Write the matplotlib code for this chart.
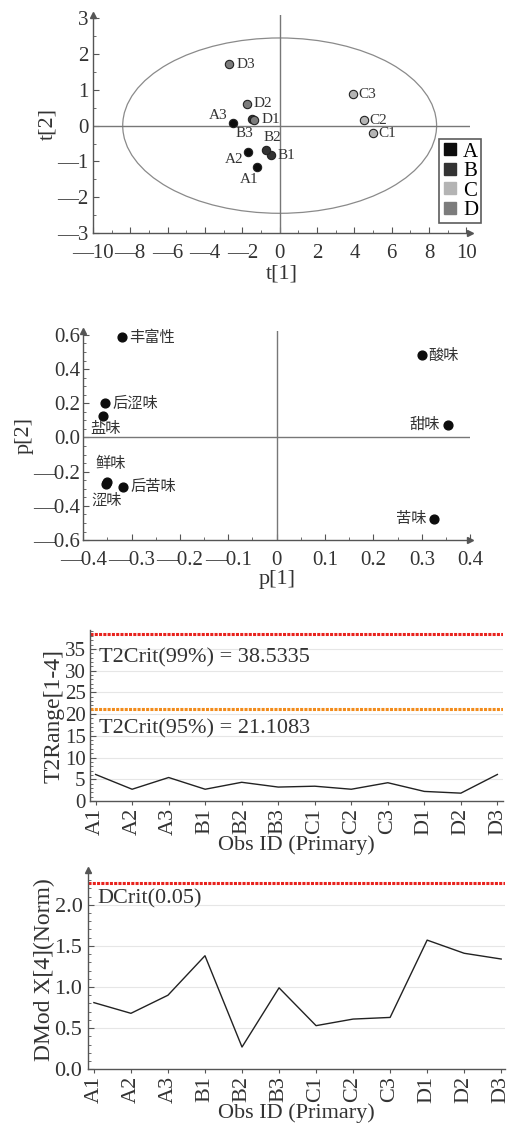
import matplotlib
matplotlib.use('Agg')
import matplotlib.pyplot as plt
from matplotlib.patches import Ellipse
from matplotlib.ticker import FuncFormatter, MultipleLocator

plt.rcParams['font.family'] = ['Liberation Serif', 'Noto Sans CJK SC', 'DejaVu Sans']
plt.rcParams['axes.unicode_minus'] = False

# ---------------- data ----------------
obs_ids = ['A1', 'A2', 'A3', 'B1', 'B2', 'B3', 'C1', 'C2', 'C3', 'D1', 'D2', 'D3']
groups = ['A', 'A', 'A', 'B', 'B', 'B', 'C', 'C', 'C', 'D', 'D', 'D']
group_names = ['A', 'B', 'C', 'D']
t1 = [-1.19, -1.67, -2.50, -0.46, -0.71, -1.50, 5.00, 4.50, 3.90, -1.35, -1.77, -2.71]
t2 = [-1.15, -0.74, 0.08, -0.83, -0.69, 0.18, -0.21, 0.15, 0.88, 0.17, 0.61, 1.71]
ellipse_w = 16.8
ellipse_h = 4.9

taste_names = ['丰富性', '酸味', '后涩味', '盐味', '甜味', '鲜味', '涩味', '后苦味', '苦味']
p1 = [-0.320, 0.300, -0.354, -0.359, 0.355, -0.351, -0.353, -0.317, 0.326]
p2 = [0.585, 0.480, 0.200, 0.126, 0.075, -0.258, -0.272, -0.287, -0.474]

t2range = [6.1, 2.7, 5.4, 2.7, 4.3, 3.2, 3.4, 2.7, 4.2, 2.2, 1.8, 6.1]
t2crit99 = 38.5335
t2crit95 = 21.1083

dmodx = [0.81, 0.68, 0.90, 1.38, 0.27, 0.99, 0.53, 0.61, 0.63, 1.57, 1.41, 1.34]
dcrit = 2.27

# ---------------- styles ----------------
group_colors = {'A': '#0d0d0d', 'B': '#333333', 'C': '#b4b4b4', 'D': '#7c7c7c'}
score_offsets = {'A1': (-6, -9, 'center'), 'A2': (-10, -5, 'center'), 'A3': (-11, 5, 'center'),
                 'B1': (11, 0, 'center'), 'B2': (4, 9.5, 'center'), 'B3': (-5, -10, 'center'),
                 'C1': (10.5, 0, 'center'), 'C2': (10.5, 0, 'center'), 'C3': (10.5, 0, 'center'),
                 'D1': (12, 0, 'center'), 'D2': (12, 0, 'center'), 'D3': (12, 0, 'center')}
load_offsets = [(5, 0, 'left'), (5, 0, 'left'), (5, 0, 'left'), (1.5, -9, 'center'),
                (-6.5, 0, 'right'), (3, 13, 'center'), (0.5, -11.5, 'center'),
                (5.5, 0, 'left'), (-5.5, 0, 'right')]
spine_c = '#555555'
text_c = '#333333'


def dash_fmt(v, pos):
    s = ('%g' % v)
    if v < 0:
        s = '—' + s[1:]
    return s


def dash_fmt1(v, pos):
    s = '%.1f' % v
    if v < -1e-9:
        s = '—' + s[1:]
    elif abs(v) < 1e-9:
        s = '0.0'
    return s


def dash_fmt_p(v, pos):
    if abs(v) < 1e-9:
        return '0'
    s = '%.1f' % v
    if v < 0:
        s = '—' + s[1:]
    return s


def style_axes(ax, arrow_x=True, arrow_y=True):
    for s in ['top', 'right']:
        ax.spines[s].set_visible(False)
    for s in ['left', 'bottom']:
        ax.spines[s].set_color(spine_c)
        ax.spines[s].set_linewidth(1.0)
    ax.tick_params(colors=spine_c, labelcolor=text_c, direction='in', length=4, width=0.8)
    ax.tick_params(which='minor', direction='in', length=2, width=0.6, colors=spine_c)
    if arrow_x:
        ax.plot(1.0, 0, marker='>', color=spine_c, markersize=4,
                transform=ax.transAxes, clip_on=False)
    if arrow_y:
        ax.plot(0, 1.0, marker='^', color=spine_c, markersize=4,
                transform=ax.transAxes, clip_on=False)


fig = plt.figure(figsize=(5.1, 11.31), dpi=100)

# ---------------- panel 1: scores ----------------
ax1 = fig.add_axes([0.182, 0.794, 0.74, 0.193])
ax1.set_xlim(-10, 10.2)
ax1.set_ylim(-3, 3.1)
style_axes(ax1)
ax1.axhline(0, color='#777777', lw=1.0)
ax1.axvline(0, color='#777777', lw=1.0)
ax1.add_patch(Ellipse((0, 0), ellipse_w, ellipse_h, fill=False, ec='#8a8a8a', lw=0.9))
for g in group_names:
    xs = [x for x, gg in zip(t1, groups) if gg == g]
    ys = [y for y, gg in zip(t2, groups) if gg == g]
    ax1.scatter(xs, ys, s=36, color=group_colors[g], edgecolors='#222222', linewidths=0.8,
                zorder=3, label=g, marker='o')
for name, x, y in zip(obs_ids, t1, t2):
    dx, dy, ha = score_offsets[name]
    ax1.annotate(name, (x, y), xytext=(dx, dy), textcoords='offset points',
                 ha=ha, va='center', fontsize=11, color=text_c)
ax1.set_xticks(range(-10, 11, 2))
ax1.set_yticks(range(-3, 4))
ax1.xaxis.set_minor_locator(MultipleLocator(1))
ax1.yaxis.set_minor_locator(MultipleLocator(0.5))
ax1.xaxis.set_major_formatter(FuncFormatter(dash_fmt))
ax1.yaxis.set_major_formatter(FuncFormatter(dash_fmt))
ax1.tick_params(labelsize=15)
ax1.tick_params(axis='x', pad=8)
ax1.tick_params(axis='y', pad=3)
ax1.set_xlabel('t[1]', fontsize=16, labelpad=1, color=text_c)
ax1.set_ylabel('t[2]', fontsize=16, labelpad=0, color=text_c)
handles = [plt.Line2D([], [], marker='s', ls='', color=group_colors[g], markersize=9) for g in group_names]
leg = ax1.legend(handles, group_names, loc='upper left', bbox_to_anchor=(0.918, 0.431),
                 fontsize=15, frameon=True, fancybox=False, edgecolor='#333333',
                 handlelength=0.7, handletextpad=0.3, borderpad=0.15, labelspacing=0.0,
                 borderaxespad=0)
leg.get_frame().set_linewidth(1.2)

# ---------------- panel 2: loadings ----------------
ax2 = fig.add_axes([0.163, 0.5225, 0.759, 0.185])
ax2.set_xlim(-0.4, 0.4)
ax2.set_ylim(-0.6, 0.624)
style_axes(ax2)
ax2.axhline(0, color='#777777', lw=1.0)
ax2.axvline(0, color='#777777', lw=1.0)
ax2.scatter(p1, p2, s=40, color='#0d0d0d', zorder=3)
for name, x, y, (dx, dy, ha) in zip(taste_names, p1, p2, load_offsets):
    ax2.annotate(name, (x, y), xytext=(dx, dy), textcoords='offset points',
                 ha=ha, va='center', fontsize=11, color=text_c,
                 family=['Noto Sans CJK SC', 'DejaVu Sans'])
ax2.set_xticks([-0.4, -0.3, -0.2, -0.1, 0, 0.1, 0.2, 0.3, 0.4])
ax2.set_yticks([-0.6, -0.4, -0.2, 0.0, 0.2, 0.4, 0.6])
ax2.xaxis.set_minor_locator(MultipleLocator(0.05))
ax2.yaxis.set_minor_locator(MultipleLocator(0.05))
ax2.xaxis.set_major_formatter(FuncFormatter(dash_fmt_p))
ax2.yaxis.set_major_formatter(FuncFormatter(dash_fmt1))
ax2.tick_params(labelsize=15)
ax2.tick_params(axis='x', pad=8)
ax2.tick_params(axis='y', pad=2)
ax2.set_xlabel('p[1]', fontsize=16, labelpad=0, color=text_c)
ax2.set_ylabel('p[2]', fontsize=16, labelpad=0, color=text_c)

# ---------------- panel 3: T2 range ----------------
xpos = list(range(len(obs_ids)))
ax3 = fig.add_axes([0.176, 0.2918, 0.81, 0.151])
ax3.set_xlim(-0.16, 11.15)
ax3.set_ylim(0, 39.3)
style_axes(ax3, arrow_x=False, arrow_y=False)
for v in range(5, 40, 5):
    ax3.axhline(v, color='#e6e6e6', lw=0.8, zorder=0)
ax3.axhline(t2crit99, color='#e8231e', lw=2.2, ls=(0, (1, 0.4)))
ax3.axhline(t2crit95, color='#f28c1c', lw=2.2, ls=(0, (1, 0.4)))
ax3.plot(xpos, t2range, color='#222222', lw=1.0)
ax3.text(0.1, 33.0, 'T2Crit(99%%) = %.4f' % t2crit99, fontsize=16, va='center', color=text_c)
ax3.text(0.1, 16.6, 'T2Crit(95%%) = %.4f' % t2crit95, fontsize=16, va='center', color=text_c)
ax3.set_xticks(xpos)
ax3.set_xticklabels(obs_ids, rotation=90, fontsize=16)
ax3.set_yticks(range(0, 36, 5))
ax3.yaxis.set_minor_locator(MultipleLocator(1))
ax3.tick_params(axis='y', labelsize=15, pad=3)
ax3.tick_params(axis='x', direction='out', length=3, pad=2)
ax3.set_xlabel('Obs ID (Primary)', fontsize=16, labelpad=0, color=text_c)
ax3.set_ylabel('T2Range[1-4]', fontsize=17, labelpad=0, color=text_c)

# ---------------- panel 4: DModX ----------------
ax4 = fig.add_axes([0.1725, 0.0546, 0.8175, 0.176])
ax4.set_xlim(-0.16, 11.1)
ax4.set_ylim(0, 2.42)
style_axes(ax4, arrow_x=False, arrow_y=True)
for v in [0.5, 1.0, 1.5, 2.0]:
    ax4.axhline(v, color='#e6e6e6', lw=0.8, zorder=0)
ax4.axhline(dcrit, color='#e8231e', lw=2.2, ls=(0, (1, 0.4)))
ax4.plot(xpos, dmodx, color='#222222', lw=1.0)
ax4.text(0.1, 2.07, 'DCrit(0.05)', fontsize=16, va='center', color=text_c)
ax4.set_xticks(xpos)
ax4.set_xticklabels(obs_ids, rotation=90, fontsize=16)
ax4.set_yticks([0.0, 0.5, 1.0, 1.5, 2.0])
ax4.yaxis.set_major_formatter(FuncFormatter(lambda v, p: '%.1f' % v))
ax4.yaxis.set_minor_locator(MultipleLocator(0.1))
ax4.tick_params(axis='y', labelsize=16, pad=4)
ax4.tick_params(axis='x', direction='out', length=3, pad=2)
ax4.set_xlabel('Obs ID (Primary)', fontsize=16, labelpad=0, color=text_c)
ax4.set_ylabel('DMod X[4](Norm)', fontsize=17, labelpad=0, color=text_c)

fig.savefig('out.png', dpi=100)
